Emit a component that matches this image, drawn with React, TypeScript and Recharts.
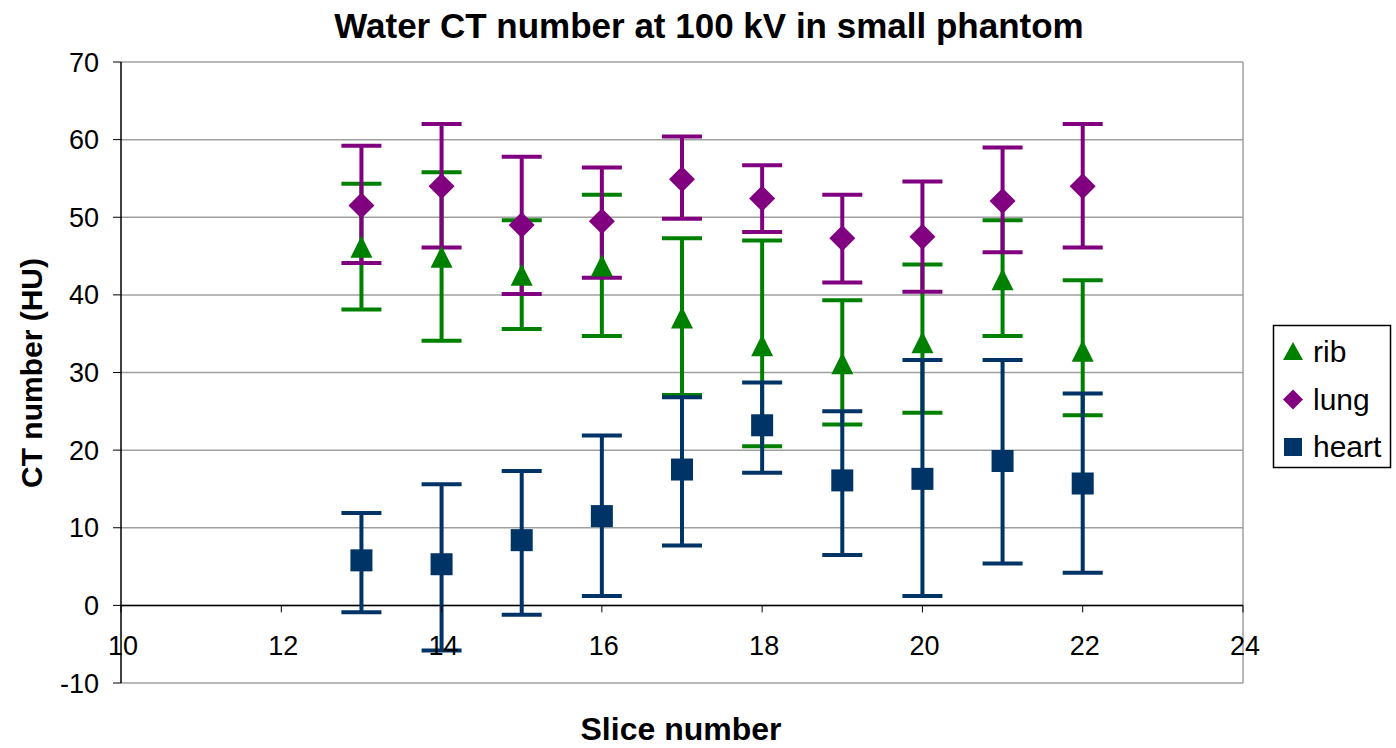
import { ScatterChart, Scatter, XAxis, YAxis, CartesianGrid, ErrorBar, ReferenceLine } from 'recharts'

// slice numbers on the x axis
const slices = [13, 14, 15, 16, 17, 18, 19, 20, 21, 22]

// marker value, top of error bar, bottom of error bar (HU)
const ribMean = [46.2, 44.9, 42.6, 43.8, 37.1, 33.5, 31.2, 33.9, 42.0, 32.8]
const ribHigh = [54.3, 55.8, 49.6, 52.9, 47.3, 47.0, 39.3, 43.9, 49.6, 41.9]
const ribLow = [38.1, 34.1, 35.6, 34.7, 27.1, 20.5, 23.3, 24.8, 34.7, 24.5]

const lungMean = [51.5, 54.0, 49.0, 49.5, 54.9, 52.4, 47.3, 47.5, 52.1, 54.0]
const lungHigh = [59.2, 62.0, 57.8, 56.4, 60.4, 56.7, 52.9, 54.6, 59.0, 62.0]
const lungLow = [44.1, 46.1, 40.1, 42.2, 49.8, 48.1, 41.6, 40.4, 45.5, 46.1]

const heartMean = [5.8, 5.3, 8.4, 11.5, 17.5, 23.2, 16.1, 16.3, 18.6, 15.7]
const heartHigh = [11.9, 15.6, 17.3, 21.9, 26.8, 28.7, 25.0, 31.6, 31.6, 27.3]
const heartLow = [-0.9, -5.8, -1.2, 1.2, 7.7, 17.1, 6.5, 1.2, 5.4, 4.2]

const xTicks = [10, 12, 14, 16, 18, 20, 22, 24]
const yTicks = [-10, 0, 10, 20, 30, 40, 50, 60, 70]

const seriesNames = ['rib', 'lung', 'heart']
const COLORS: Record<string, string> = { rib: '#008000', lung: '#800080', heart: '#003366' }

const FONT = '"Liberation Sans", Arial, sans-serif'
const W = 1396
const H = 748
const PLOT_TOP = 62
const PLOT_BOTTOM = 683
const Y_MIN = -10
const Y_MAX = 70
const ZERO_Y = PLOT_TOP + ((Y_MAX - 0) / (Y_MAX - Y_MIN)) * (PLOT_BOTTOM - PLOT_TOP)

function build(mean: number[], high: number[], low: number[]) {
  return slices.map((s, i) => ({
    x: s,
    y: mean[i],
    err: [+(mean[i] - low[i]).toFixed(2), +(high[i] - mean[i]).toFixed(2)],
  }))
}

const ribData = build(ribMean, ribHigh, ribLow)
const lungData = build(lungMean, lungHigh, lungLow)
const heartData = build(heartMean, heartHigh, heartLow)

const Triangle = ({ cx, cy, fill }: any) => (
  <polygon points={`${cx},${cy - 11} ${cx + 11},${cy + 11} ${cx - 11},${cy + 11}`} fill={fill} />
)
const Diamond = ({ cx, cy, fill }: any) => (
  <polygon points={`${cx},${cy - 13} ${cx + 13},${cy} ${cx},${cy + 13} ${cx - 13},${cy}`} fill={fill} />
)
const Square = ({ cx, cy, fill }: any) => <rect x={cx - 11} y={cy - 11} width={22} height={22} fill={fill} />

// x labels sit under the zero line, like Excel's crossing axis
function XTick({ x, payload }: any) {
  return (
    <g>
      <line x1={x} x2={x} y1={ZERO_Y} y2={ZERO_Y + 7} stroke="#000" />
      <text x={x + 2} y={ZERO_Y + 50} textAnchor="middle" fontSize={27} fontFamily={FONT} fill="#000">
        {payload.value}
      </text>
    </g>
  )
}

function LegendIcon({ name, cy }: { name: string; cy: number }) {
  const c = COLORS[name]
  const cx = 1293
  if (name === 'rib') return <polygon points={`${cx},${cy - 10} ${cx + 10},${cy + 8} ${cx - 10},${cy + 8}`} fill={c} />
  if (name === 'lung') return <polygon points={`${cx},${cy - 10} ${cx + 10},${cy} ${cx},${cy + 10} ${cx - 10},${cy}`} fill={c} />
  return <rect x={cx - 9} y={cy - 9} width={18} height={18} fill={c} />
}

export default function App() {
  return (
    <div style={{ position: 'relative', width: W, height: H, background: '#fff', fontFamily: FONT }}>
      <style>{'body{margin:0}'}</style>
      <ScatterChart width={W} height={H} margin={{ top: PLOT_TOP, right: 153, bottom: 35, left: 61 }}>
        <CartesianGrid vertical={false} stroke="#a0a0a0" strokeWidth={1.5} />
        <XAxis
          type="number"
          dataKey="x"
          domain={[10, 24]}
          ticks={xTicks}
          height={30}
          axisLine={false}
          tickLine={false}
          tick={<XTick />}
          interval={0}
        />
        <YAxis
          type="number"
          dataKey="y"
          domain={[Y_MIN, Y_MAX]}
          ticks={yTicks}
          width={60}
          interval={0}
          axisLine={{ stroke: '#000', strokeWidth: 1.5 }}
          tickLine={{ stroke: '#000' }}
          tickSize={8}
          tickMargin={14}
          tick={{ fontSize: 27, fill: '#000', fontFamily: FONT }}
        />
        <ReferenceLine x={24} stroke="#a0a0a0" strokeWidth={1.5} />
        <ReferenceLine y={0} stroke="#000" strokeWidth={1.5} />
        <Scatter name="rib" data={ribData} fill={COLORS.rib} shape={Triangle} isAnimationActive={false}>
          <ErrorBar dataKey="err" direction="y" width={20} strokeWidth={4} stroke={COLORS.rib} />
        </Scatter>
        <Scatter name="lung" data={lungData} fill={COLORS.lung} shape={Diamond} isAnimationActive={false}>
          <ErrorBar dataKey="err" direction="y" width={20} strokeWidth={4} stroke={COLORS.lung} />
        </Scatter>
        <Scatter name="heart" data={heartData} fill={COLORS.heart} shape={Square} isAnimationActive={false}>
          <ErrorBar dataKey="err" direction="y" width={20} strokeWidth={4} stroke={COLORS.heart} />
        </Scatter>
      </ScatterChart>

      <svg width={W} height={H} style={{ position: 'absolute', left: 0, top: 0, pointerEvents: 'none' }}>
        <text x={709} y={38} textAnchor="middle" fontSize={35} fontWeight="bold" fontFamily={FONT}>
          Water CT number at 100 kV in small phantom
        </text>
        <text x={681} y={740} textAnchor="middle" fontSize={32} fontWeight="bold" fontFamily={FONT}>
          Slice number
        </text>
        <text
          x={42}
          y={373}
          textAnchor="middle"
          fontSize={30}
          fontWeight="bold"
          fontFamily={FONT}
          transform="rotate(-90 42 373)"
        >
          CT number (HU)
        </text>

        <rect x={1273.5} y={325.5} width={117} height={142} fill="#fff" stroke="#000" strokeWidth={1.5} />
        {seriesNames.map((n, i) => (
          <g key={n}>
            <LegendIcon name={n} cy={352 + i * 47.5} />
            <text x={1313} y={362 + i * 47.5} fontSize={30} fontFamily={FONT} fill="#000">
              {n}
            </text>
          </g>
        ))}
      </svg>
    </div>
  )
}
